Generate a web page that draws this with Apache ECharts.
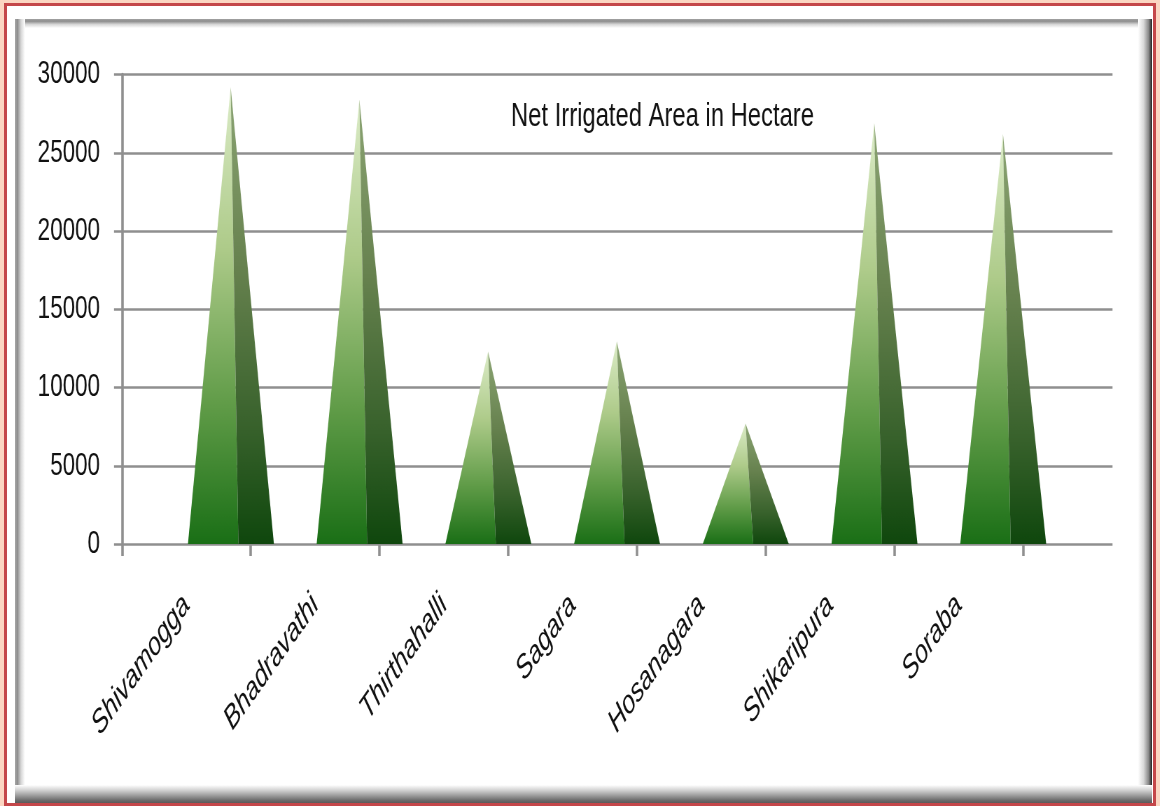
<!DOCTYPE html>
<html>
<head>
<meta charset="utf-8">
<script src="https://cdn.jsdelivr.net/npm/echarts@6/dist/echarts.min.js"></script>
<style>
  html, body { margin: 0; padding: 0; width: 1160px; height: 806px; overflow: hidden; background: #fbd6c2; }
  .abs { position: absolute; box-sizing: border-box; }
  #outer { left: 4px; top: 3px; width: 1152px; height: 803px; border: 3px solid #c4474a; background: #ffffff; }
  #bt { left: 15px; top: 19px; width: 1137px; height: 9px; background: linear-gradient(to bottom, #a2a2a2, #8e8e8e 25%, #d6d6d6 60%, #ffffff); }
  #bl { left: 15px; top: 19px; width: 10px; height: 770px; background: linear-gradient(to right, #a6a6a6, #909090 25%, #d6d6d6 60%, #ffffff); }
  #br { left: 1138px; top: 19px; width: 14px; height: 784px; background: linear-gradient(to right, #ffffff, #d8d8d8 40%, #8a8a8a 75%, #444 92%, #222); }
  #bb { left: 15px; top: 785px; width: 1137px; height: 18px; background: linear-gradient(to bottom, #ffffff, #d0d0d0 30%, #9a9a9a 60%, #6c6c6c 85%, #5a5a5a); }
  #chart { left: 0; top: 0; height: 806px; transform-origin: 0 0; }
</style>
</head>
<body>
<div id="outer" class="abs"></div>
<div id="bt" class="abs"></div>
<div id="bl" class="abs"></div>
<div id="br" class="abs"></div>
<div id="bb" class="abs"></div>
<div id="chart" class="abs"></div>
<script>
const categories = ['Shivamogga', 'Bhadravathi', 'Thirthahalli', 'Sagara', 'Hosanagara', 'Shikaripura', 'Soraba'];
const netIrrigatedArea = [29200, 28400, 12300, 12950, 7700, 26900, 26200];
const yMin = 0;
const yMax = 30000;
const yInterval = 5000;
const chartTitle = 'Net Irrigated Area in Hectare';

// The reference picture is horizontally squeezed; the chart is drawn wide and squeezed the same way.
const K = 0.7;
const W = 1160 / K;
const X = (x) => x / K;

const el = document.getElementById('chart');
el.style.width = W + 'px';
el.style.transform = 'scaleX(' + K + ')';

const font = "'Liberation Sans', Arial, sans-serif";
const axisGray = '#8f8f8f';

const gradLeft = new echarts.graphic.LinearGradient(0, 0, 0, 1, [
  { offset: 0, color: '#dcecc8' },
  { offset: 0.35, color: '#aecb8a' },
  { offset: 0.7, color: '#5f9b47' },
  { offset: 1, color: '#1a6f16' }
]);
const gradRight = new echarts.graphic.LinearGradient(0, 0, 0, 1, [
  { offset: 0, color: '#8ca574' },
  { offset: 0.4, color: '#66814e' },
  { offset: 0.75, color: '#37612b' },
  { offset: 1, color: '#0f470d' }
]);

const chart = echarts.init(el, null, { renderer: 'canvas', width: W, height: 806 });

const gridTop = 74.5, gridBottom = 806 - 544;
const option = {
  backgroundColor: 'transparent',
  animation: false,
  textStyle: { fontFamily: font },
  graphic: [{
    type: 'text',
    x: X(662.5),
    y: 117,
    style: { text: chartTitle, font: "34px " + font, fill: '#111', align: 'center', verticalAlign: 'middle' }
  }],
  grid: [
    { left: X(122), right: W - X(1112.5), top: gridTop, bottom: gridBottom, outerBoundsMode: 'none' },
    { left: X(122), right: W - X(1023), top: gridTop, bottom: gridBottom, outerBoundsMode: 'none' },
    { left: X(166.3), right: W - X(1067.3), top: gridTop, bottom: gridBottom, outerBoundsMode: 'none' }
  ],
  xAxis: [
    { gridIndex: 0, type: 'category', data: categories, show: false },
    {
      gridIndex: 1, type: 'category', data: categories, boundaryGap: true,
      axisLine: { show: false },
      axisTick: { show: true, length: 12, interval: 0, lineStyle: { color: axisGray, width: 2.5 / K } },
      axisLabel: {
        interval: 0, rotate: 45, margin: 56,
        fontStyle: 'italic', fontSize: 33,
        fontFamily: font, color: '#111'
      }
    },
    { gridIndex: 2, type: 'category', data: categories, show: false }
  ],
  yAxis: [
    {
      gridIndex: 0, type: 'value', min: yMin, max: yMax, interval: yInterval,
      axisLine: { show: true, lineStyle: { color: axisGray, width: 2.5 / K } },
      axisTick: { show: true, length: 8 / K, lineStyle: { color: axisGray, width: 2.5 } },
      axisLabel: { margin: 22 / K, fontSize: 32, fontFamily: font, color: '#111', formatter: (v) => String(v) },
      splitLine: { show: true, lineStyle: { color: axisGray, width: 2.5 } }
    },
    { gridIndex: 1, type: 'value', min: yMin, max: yMax, interval: yInterval, show: false },
    { gridIndex: 2, type: 'value', min: yMin, max: yMax, interval: yInterval, show: false }
  ],
  series: [{
    type: 'custom',
    xAxisIndex: 2,
    yAxisIndex: 2,
    data: netIrrigatedArea.map((v, i) => [i, v]),
    encode: { x: 0, y: 1 },
    renderItem: function (params, api) {
      const idx = api.value(0);
      const val = api.value(1);
      const base = api.coord([idx, 0]);
      const top = api.coord([idx, val]);
      const band = api.size([1, 0])[0];
      const c = base[0];
      const L = c - band * 0.332;
      const D = c + band * 0.060;
      const R = c + band * 0.336;
      const by = base[1];
      return {
        type: 'group',
        children: [
          { type: 'polygon', shape: { points: [[L, by], [D, by], [top[0], top[1]]] }, style: { fill: gradLeft } },
          { type: 'polygon', shape: { points: [[D, by], [R, by], [top[0], top[1]]] }, style: { fill: gradRight } }
        ]
      };
    }
  }]
};
chart.setOption(option);
</script>
</body>
</html>
